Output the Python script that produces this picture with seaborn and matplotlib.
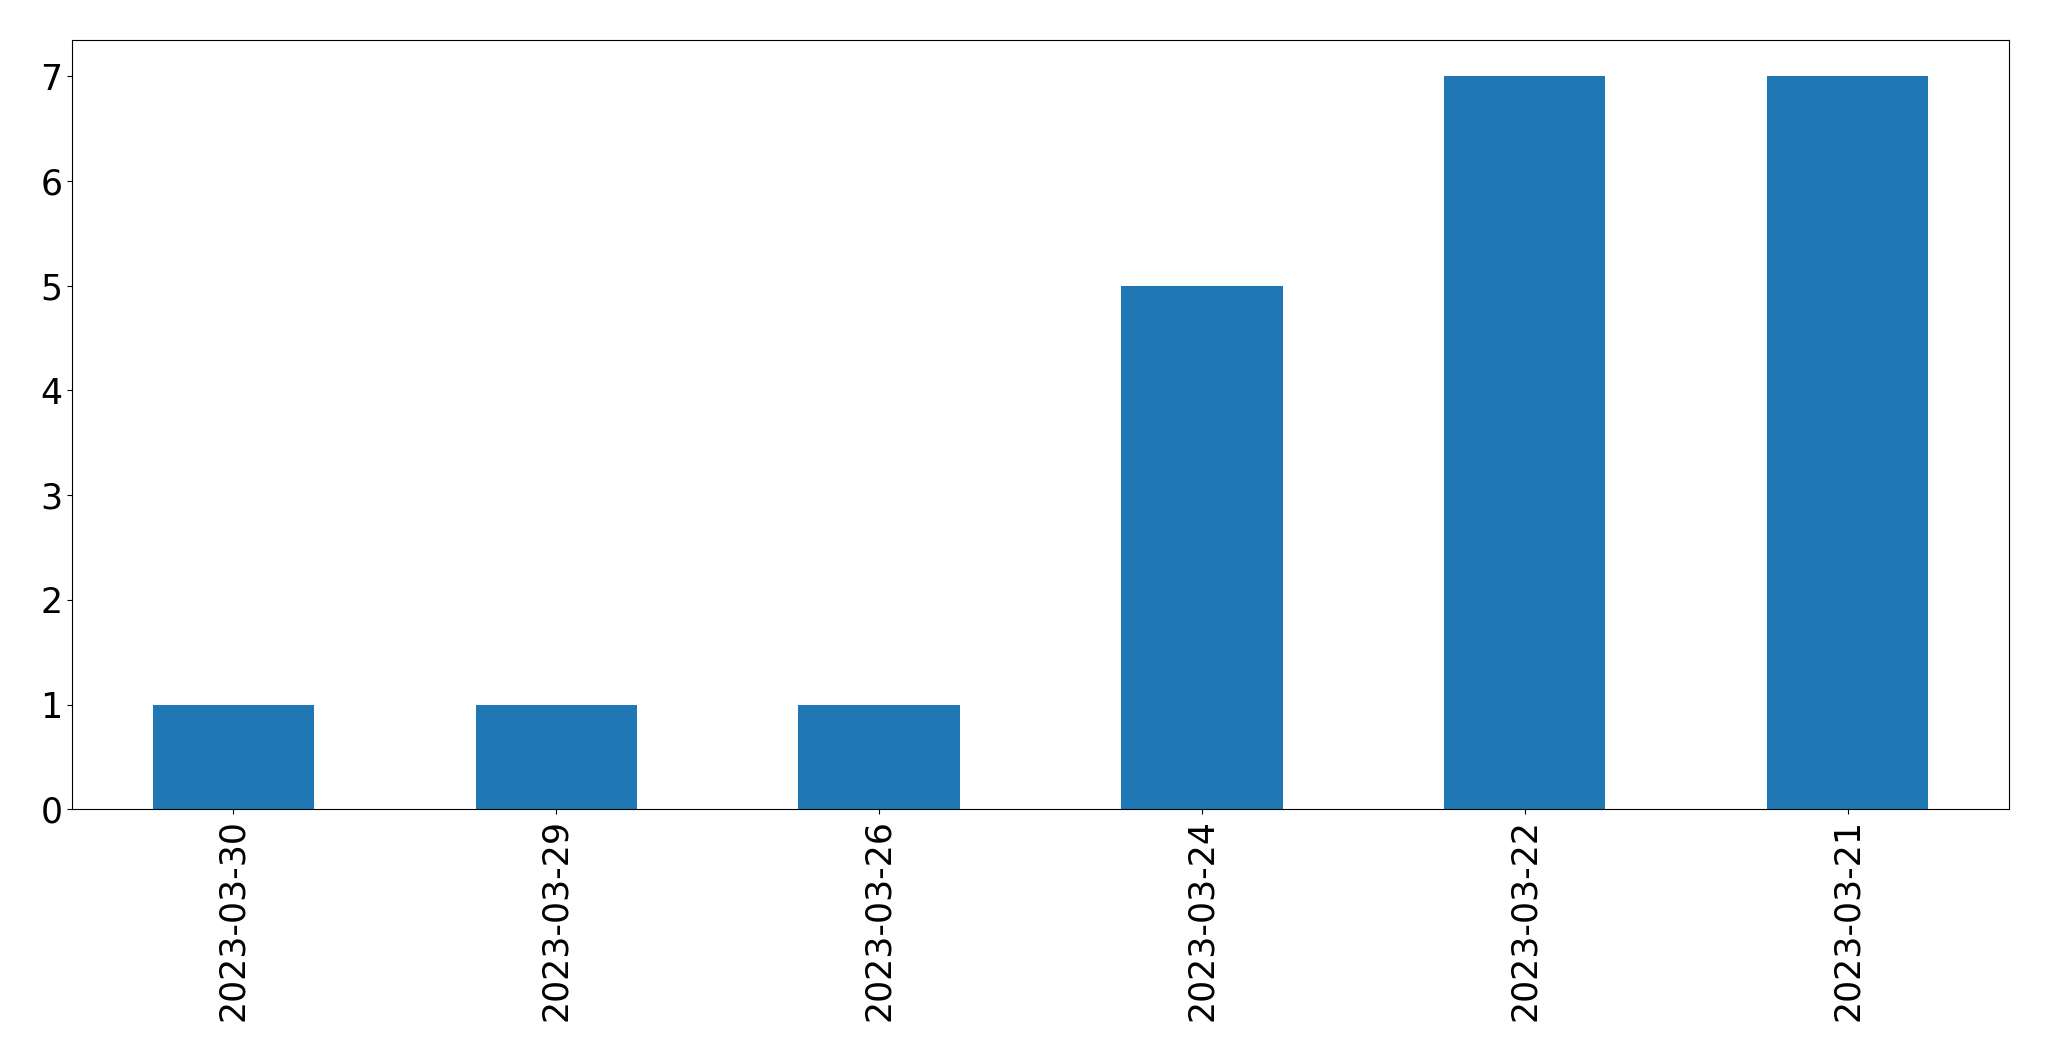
import pandas as pd
import seaborn as sns
import matplotlib
matplotlib.use("Agg")
import matplotlib.pyplot as plt

dates = ["2023-03-30", "2023-03-29", "2023-03-26", "2023-03-24", "2023-03-22", "2023-03-21"]
counts = [1, 1, 1, 5, 7, 7]

df = pd.DataFrame({"date": dates, "count": counts})

fig, ax = plt.subplots(figsize=(20.49, 10.61), dpi=100)
fig.subplots_adjust(left=72 / 2049, right=2009 / 2049, top=1 - 39.5 / 1061, bottom=1 - 809.3 / 1061)

sns.barplot(
    data=df,
    x="date",
    y="count",
    order=dates,
    color="#1f77b4",
    saturation=1,
    width=0.5,
    ax=ax,
)

ax.set_xlim(-0.5, len(dates) - 0.5)
ax.set_ylim(0, 7 * 1.05)
ax.set_xlabel("")
ax.set_ylabel("")
ax.tick_params(axis="both", labelsize=25)
plt.setp(ax.get_xticklabels(), rotation=90)

fig.savefig("out.png", dpi=100)
